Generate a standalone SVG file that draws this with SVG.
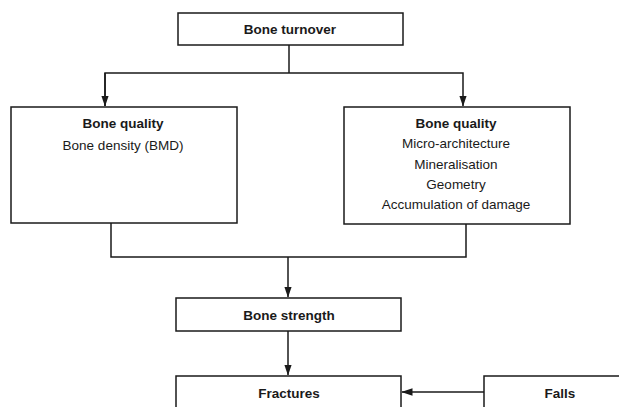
<svg xmlns="http://www.w3.org/2000/svg" width="619" height="407" viewBox="0 0 619 407">
<defs>
<marker id="ah" markerWidth="11" markerHeight="8" refX="10.5" refY="3.75" orient="auto" markerUnits="userSpaceOnUse">
<path d="M0,0 L11,3.75 L0,7.5 Z" fill="#1a1a1a"/>
</marker>
<style>
.box{fill:#fff;stroke:#1a1a1a;stroke-width:1.5}
.ln{fill:none;stroke:#1a1a1a;stroke-width:1.5}
text{font-family:"Liberation Sans",Arial,sans-serif;font-size:13.5px;fill:#1a1a1a;text-anchor:middle}
.b{font-weight:bold}
</style>
</defs>
<rect width="619" height="407" fill="#fff"/>
<g id="connectors">
<polyline class="ln" points="289,45 289,73"/>
<polyline class="ln" points="105,106 105,73 463,73 463,106" marker-end="url(#ah)"/>
<line class="ln" x1="105" y1="73" x2="105" y2="106" marker-end="url(#ah)"/>
<polyline class="ln" points="111,223 111,257 466,257 466,224"/>
<line class="ln" x1="288" y1="257" x2="288" y2="297" marker-end="url(#ah)"/>
<line class="ln" x1="288" y1="331" x2="288" y2="375" marker-end="url(#ah)"/>
<line class="ln" x1="484" y1="392" x2="402" y2="392" marker-end="url(#ah)"/>
</g>
<g id="bone-turnover">
<rect class="box" x="178" y="13" width="225" height="32"/>
<text class="b" x="290" y="34">Bone turnover</text>
</g>
<g id="bone-quality-left">
<rect class="box" x="11" y="107" width="226" height="116"/>
<text class="b" x="123" y="128">Bone quality</text>
<text x="123" y="150">Bone density (BMD)</text>
</g>
<g id="bone-quality-right">
<rect class="box" x="344" y="107" width="226" height="117"/>
<text class="b" x="456" y="128">Bone quality</text>
<text x="456" y="148">Micro-architecture</text>
<text x="456" y="169">Mineralisation</text>
<text x="456" y="189">Geometry</text>
<text x="456" y="209">Accumulation of damage</text>
</g>
<g id="bone-strength">
<rect class="box" x="176" y="298" width="225" height="33"/>
<text class="b" x="289" y="320">Bone strength</text>
</g>
<g id="fractures">
<rect class="box" x="176" y="376" width="225" height="40"/>
<text class="b" x="289" y="398">Fractures</text>
</g>
<g id="falls">
<rect class="box" x="484" y="376" width="150" height="40"/>
<text class="b" x="560" y="398">Falls</text>
</g>
</svg>
